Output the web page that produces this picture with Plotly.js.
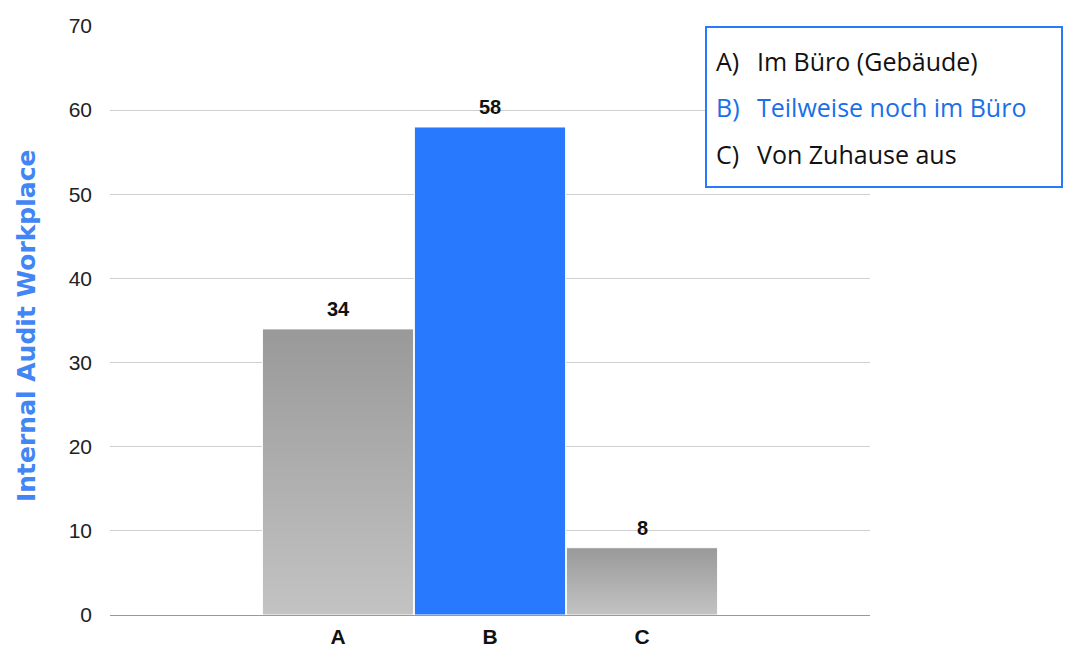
<!DOCTYPE html>
<html>
<head>
<meta charset="utf-8">
<script src="https://cdn.plot.ly/plotly-3.0.1.min.js"></script>
<style>html,body{margin:0;padding:0;background:#fff;}#chart{width:1065px;height:647px;}</style>
</head>
<body>
<div id="chart"></div>
<script>
var categories = ["A", "B", "C"];
var values = [34, 58, 8];
var legendKeys = ["A)", "B)", "C)"];
var legendLabels = ["Im Büro (Gebäude)", "Teilweise noch im Büro", "Von Zuhause aus"];
var yTickValues = [0, 10, 20, 30, 40, 50, 60, 70];
var yTitle = "Internal Audit Workplace";

var BLUE = "#2979ff";
var barColors = ["#aaaaaa", BLUE, "#aaaaaa"];
var legendColors = ["#111111", "#1a6fe8", "#111111"];

var annotations = [];
annotations.push({
  xref: "paper", yref: "paper", x: (27 - 110) / 760, y: (615 - 326) / 589,
  xanchor: "center", yanchor: "middle", textangle: -90, showarrow: false,
  text: "<b>" + yTitle + "</b>",
  font: {family: "DejaVu Sans", size: 25, color: "#4285f4"}
});
for (var i = 0; i < categories.length; i++) {
  annotations.push({
    x: categories[i], y: values[i], xref: "x", yref: "y",
    text: "<b>" + values[i] + "</b>", showarrow: false,
    yanchor: "bottom", yshift: 7,
    font: {family: "Liberation Sans, Arial", size: 20, color: "#111"}
  });
}
var lineY = [61, 107, 154];
for (var j = 0; j < legendLabels.length; j++) {
  var yp = (615 - lineY[j]) / 589;
  annotations.push({
    xref: "paper", yref: "paper", x: (714 - 110) / 760, y: yp,
    xanchor: "left", yanchor: "middle", showarrow: false,
    text: legendKeys[j], font: {family: "Open Sans", size: 25, color: legendColors[j]}
  });
  annotations.push({
    xref: "paper", yref: "paper", x: (755 - 110) / 760, y: yp,
    xanchor: "left", yanchor: "middle", showarrow: false,
    text: legendLabels[j], font: {family: "Open Sans", size: 25, color: legendColors[j]}
  });
}

var trace = {
  type: "bar", x: categories, y: values,
  marker: {color: barColors, line: {color: "#ffffff", width: 1}},
  hoverinfo: "none", showlegend: false
};

var layout = {
  width: 1065, height: 647,
  margin: {l: 110, r: 195, t: 26, b: 32},
  paper_bgcolor: "#fff", plot_bgcolor: "#fff",
  bargap: 0.005,
  font: {family: "Liberation Sans, Arial", color: "#333"},
  xaxis: {
    type: "category", range: [-1.5, 3.5], automargin: false,
    showgrid: false, zeroline: false, showline: false, ticks: "",
    tickfont: {size: 21, color: "#111", weight: "bold"},
    ticklabelstandoff: 7, fixedrange: true
  },
  yaxis: {
    range: [0, 70], tickvals: yTickValues, automargin: false,
    showgrid: true, gridcolor: "#d0d0d0", gridwidth: 1,
    zeroline: true, zerolinecolor: "#999", zerolinewidth: 1,
    showline: false, ticks: "",
    tickfont: {size: 21, color: "#222"}, ticklabelstandoff: 17,
    fixedrange: true
  },
  shapes: [{
    type: "rect", xref: "paper", yref: "paper",
    x0: (706 - 110) / 760, x1: (1062 - 110) / 760,
    y0: (615 - 187) / 589, y1: (615 - 27) / 589,
    line: {color: BLUE, width: 2}, fillcolor: "#ffffff", layer: "above"
  }],
  annotations: annotations
};

function applyStyling() {
  var gd = document.getElementById("chart");
  var svg = gd.querySelector("svg.main-svg");
  if (!svg) return;
  var defs = svg.querySelector("defs");
  if (!defs) { defs = document.createElementNS("http://www.w3.org/2000/svg", "defs"); svg.insertBefore(defs, svg.firstChild); }
  if (!svg.querySelector("#grayGrad")) {
    var lg = document.createElementNS("http://www.w3.org/2000/svg", "linearGradient");
    lg.setAttribute("id", "grayGrad");
    lg.setAttribute("x1", "0"); lg.setAttribute("y1", "0");
    lg.setAttribute("x2", "0"); lg.setAttribute("y2", "1");
    var s1 = document.createElementNS("http://www.w3.org/2000/svg", "stop");
    s1.setAttribute("offset", "0"); s1.setAttribute("stop-color", "#999999");
    var s2 = document.createElementNS("http://www.w3.org/2000/svg", "stop");
    s2.setAttribute("offset", "1"); s2.setAttribute("stop-color", "#c3c3c3");
    lg.appendChild(s1); lg.appendChild(s2); defs.appendChild(lg);
  }
  var pts = gd.querySelectorAll("g.trace.bars g.point path");
  pts.forEach(function (p, idx) {
    if (barColors[idx] !== BLUE) p.style.fill = "url(#grayGrad)";
  });
}

var gd = document.getElementById("chart");
Plotly.newPlot(gd, [trace], layout, {displayModeBar: false, staticPlot: true}).then(function () {
  applyStyling();
  gd.on("plotly_afterplot", applyStyling);
});
</script>
</body>
</html>
